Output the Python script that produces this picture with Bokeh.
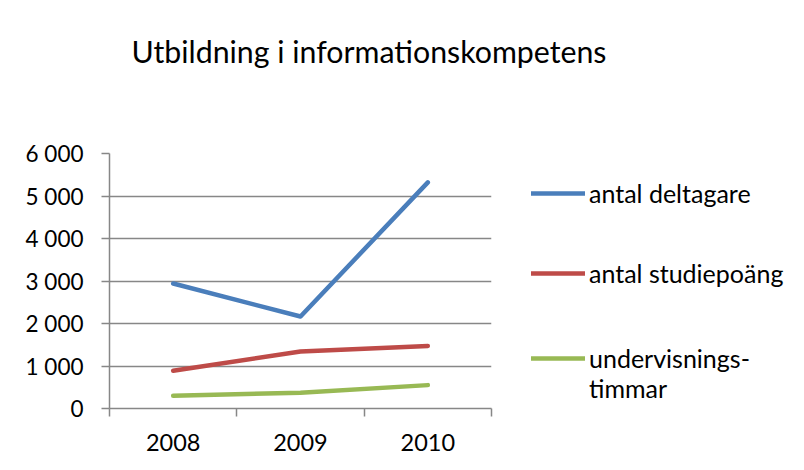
from bokeh.plotting import figure
from bokeh.models import (Range1d, FixedTicker, Legend, LegendItem, Title)
from bokeh.embed import file_html
from bokeh.resources import INLINE

# ---- data ----
years = ["2008", "2009", "2010"]
deltagare = [2940, 2165, 5320]
studiepoang = [890, 1340, 1470]
timmar = [300, 370, 550]
series_names = ["antal deltagare", "antal studiepoäng", "\nundervisnings-\ntimmar"]
series_colors = ["#4a7ebb", "#be4b48", "#98b954"]
y_ticks = [0, 1000, 2000, 3000, 4000, 5000, 6000]
y_tick_labels = ["0", "1 000", "2 000", "3 000", "4 000", "5 000", "6 000"]
title_text = "Utbildning i informationskompetens"

FONT = "Lato"
GRAY = "#878787"

x_pos = [i + 0.5 for i in range(len(years))]

p = figure(frame_width=382, frame_height=255, output_backend="svg", toolbar_location=None,
           x_range=Range1d(0, len(years)), y_range=Range1d(0, 6000),
           min_border_left=109, min_border_right=290, min_border_top=153,
           min_border_bottom=52)
p.outline_line_color = None
p.background_fill_color = "white"
p.border_fill_color = "white"

renderers = []
for vals, col in zip([deltagare, studiepoang, timmar], series_colors):
    r = p.line(x_pos, vals, line_color=col, line_width=4.5,
               line_cap="round", line_join="round")
    renderers.append(r)

# y axis
yax = p.yaxis[0]
yax.ticker = FixedTicker(ticks=y_ticks)
yax.major_label_overrides = {t: l for t, l in zip(y_ticks, y_tick_labels)}
yax.axis_line_color = GRAY
yax.axis_line_width = 1.5
yax.major_tick_line_color = GRAY
yax.major_tick_line_width = 1.5
yax.major_tick_out = 8
yax.major_tick_in = 0
yax.minor_tick_line_color = None
yax.major_label_text_font = FONT
yax.major_label_text_font_size = "22.5px"
yax.major_label_text_color = "#000000"
yax.major_label_standoff = 18

# x axis: labels at category centres, ticks at category boundaries
xax = p.xaxis[0]
xax.ticker = FixedTicker(ticks=x_pos, minor_ticks=list(range(len(years) + 1)))
xax.major_label_overrides = {x: y for x, y in zip(x_pos, years)}
xax.axis_line_color = GRAY
xax.axis_line_width = 1.5
xax.major_tick_line_color = None
xax.minor_tick_line_color = GRAY
xax.minor_tick_line_width = 1.5
xax.minor_tick_out = 8
xax.minor_tick_in = 0
xax.major_tick_out = 8
xax.major_label_text_font = FONT
xax.major_label_text_font_size = "23.5px"
xax.major_label_text_color = "#000000"
xax.major_label_standoff = 17

p.xgrid.grid_line_color = None
p.ygrid.ticker = FixedTicker(ticks=y_ticks)
p.ygrid.grid_line_color = GRAY
p.ygrid.grid_line_width = 1.5

# spacer between frame and title, then the title itself
spacer = Title(text=" ", text_font_size="1px", standoff=77)
p.add_layout(spacer, "above")
title = Title(text=title_text, align="left", offset=22, standoff=10, text_font=FONT,
              text_font_size="30.3px", text_font_style="normal", text_color="#000000")
p.add_layout(title, "above")

legend = Legend(items=[LegendItem(label=n, renderers=[r]) for n, r in zip(series_names, renderers)],
                location=(40, 5), orientation="vertical")
legend.label_text_font = FONT
legend.label_text_font_size = "25px"
legend.label_text_line_height = 1.0
legend.label_text_color = "#000000"
legend.glyph_width = 54
legend.glyph_height = 80
legend.label_height = 20
legend.label_standoff = 4
legend.spacing = 0
legend.padding = 0
legend.margin = 0
legend.border_line_color = None
legend.background_fill_alpha = 0
p.add_layout(legend, "right")

open("out.html", "w").write(file_html(p, INLINE))
